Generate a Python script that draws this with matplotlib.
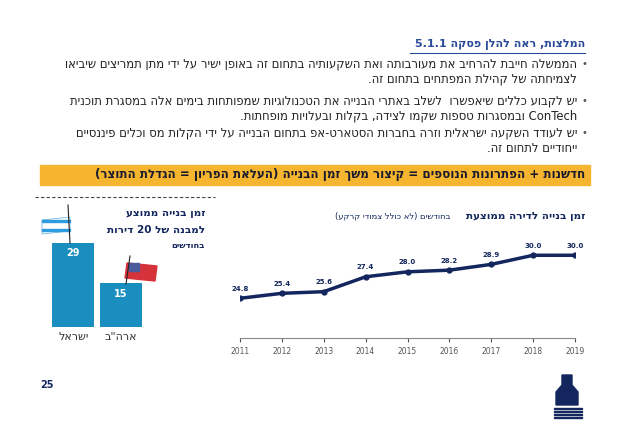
import re
import matplotlib.pyplot as plt
from matplotlib.patches import Rectangle, Polygon

plt.rcParams['font.family'] = ['DejaVu Sans']

years = [2011, 2012, 2013, 2014, 2015, 2016, 2017, 2018, 2019]
months = [24.8, 25.4, 25.6, 27.4, 28.0, 28.2, 28.9, 30.0, 30.0]
countries = ['ישראל', 'ארה"ב']
bar_vals = [29, 15]

NAVY = '#13275e'
BLUE = '#1a8fbf'
W, H = 620, 437


def rtl(s):
    # visual order for right-to-left text, keep latin/digit runs intact
    out = s[::-1]
    out = re.sub(r'[A-Za-z0-9.]*[A-Za-z0-9]', lambda m: m.group(0)[::-1], out)
    return out.translate(str.maketrans('()', ')('))


def px(x, y):
    return x / W, 1 - y / H


fig = plt.figure(figsize=(6.2, 4.37), dpi=100)


def txt(x, y, s, **kw):
    kw.setdefault('color', NAVY)
    kw.setdefault('va', 'center')
    kw.setdefault('ha', 'right')
    fig.text(*px(x, y), rtl(s), **kw)


txt(585, 45, 'המלצות, ראה להלן פסקה 5.1.1', fontsize=8, weight='bold', color='#2a4a9a')
fig.add_artist(plt.Line2D([410 / W, 585 / W], [1 - 53 / H] * 2, color='#2a4a9a', lw=0.8))

lines = [
    (64, True, 'הממשלה חייבת להרחיב את מעורבותה ואת השקעותיה בתחום זה באופן ישיר על ידי מתן תמריצים שיביאו'),
    (79, False, 'לצמיחתה של קהילת המפתחים בתחום זה.'),
    (101, True, 'יש לקבוע כללים שיאפשרו  לשלב באתרי הבנייה את הטכנולוגיות שמפותחות בימים אלה במסגרת תוכנית'),
    (116, False, 'ConTech ובמסגרות טספות שקמו לצידה, בקלות ובעלויות מופחתות.'),
    (133, True, 'יש לעודד השקעה ישראלית וזרה בחברות הסטארט-אפ בתחום הבנייה על ידי הקלות מס וכלים פיננסיים'),
    (148, False, 'ייחודיים לתחום זה.'),
]
for y, bullet, s in lines:
    txt(577, y, s, fontsize=8.4, color='#222222')
    if bullet:
        fig.text(*px(587, y), '•', ha='right', va='center', fontsize=7, color='#555555')

fig.add_artist(Rectangle(px(40, 185), 550 / W, 20 / H, color='#f5b52e', zorder=0))
txt(585, 175, 'חדשנות + הפתרונות הנוספים = קיצור משך זמן הבנייה (העלאת הפריון = הגדלת התוצר)',
    fontsize=8.6, weight='bold', color='#1a1a2e')

# line chart
ax = fig.add_axes([240 / W, 1 - 338 / H, 335 / W, 91 / H])
ax.plot(years, months, color=NAVY, lw=2.5, marker='o', ms=3.5)
for x, v in zip(years, months):
    ax.text(x, v + 0.9, f'{v:.1f}', ha='center', fontsize=5, color=NAVY, weight='bold')
ax.set_ylim(20, 31)
ax.set_xlim(2011, 2019)
ax.set_yticks([])
ax.set_xticks(years)
ax.tick_params(axis='x', labelsize=5.5, colors='#555555', length=3)
for sp in ['top', 'right', 'left']:
    ax.spines[sp].set_visible(False)
ax.spines['bottom'].set_color('#888888')
txt(585, 216, 'זמן בנייה לדירה ממוצעת', fontsize=7.5, weight='bold')
txt(450, 216, 'בחודשים (לא כולל צמודי קרקע)', fontsize=6)

# bar chart
bx = fig.add_axes([47 / W, 1 - 327 / H, 100 / W, 96 / H])
bx.bar([0, 1], bar_vals, width=0.87, color=BLUE)
for i, v in enumerate(bar_vals):
    bx.text(i, v - 3.5, str(v), ha='center', va='center', color='white', fontsize=7, weight='bold')
bx.set_ylim(0, 33)
bx.set_xlim(-0.55, 1.55)
bx.set_xticks([0, 1], [rtl(c) for c in countries])
bx.tick_params(axis='x', length=0, labelsize=8, colors='#333333')
bx.set_yticks([])
for sp in bx.spines.values():
    sp.set_visible(False)

fig.add_artist(plt.Line2D([35 / W, 215 / W], [1 - 197 / H] * 2, color='#444444', lw=0.8, ls=(0, (3, 2))))
txt(205, 213, 'זמן בנייה ממוצע', fontsize=7.5, weight='bold')
txt(205, 230, 'למבנה של 20 דירות', fontsize=7.5, weight='bold')
txt(205, 246, 'בחודשים', fontsize=6, weight='bold')

# flags
fig.add_artist(plt.Line2D([70 / W, 68 / W], [1 - 243 / H, 1 - 205 / H], color='#222222', lw=0.8))
fig.add_artist(Polygon([px(42, 220), px(70, 217), px(70, 231), px(42, 234)], closed=True,
                       facecolor='white', edgecolor='#5aaee0', lw=0.5))
fig.add_artist(Rectangle(px(42, 222), 28 / W, 2 / H, color='#2f9be0'))
fig.add_artist(Rectangle(px(42, 231), 28 / W, 2 / H, color='#2f9be0'))
fig.add_artist(plt.Line2D([126 / W, 130 / W], [1 - 284 / H, 1 - 256 / H], color='#222222', lw=0.8))
fig.add_artist(Polygon([px(127, 263), px(157, 266), px(155, 281), px(125, 278)], closed=True,
                       color='#d6323a'))
fig.add_artist(Rectangle(px(129, 271), 10 / W, 8 / H, color='#4a5a9a'))

fig.text(*px(40, 385), '25', ha='left', va='center', fontsize=7, weight='bold', color=NAVY)

# logo
fig.add_artist(Polygon([px(562, 375), px(572, 375), px(572, 385), px(578, 392), px(578, 405),
                        px(556, 405), px(556, 392), px(562, 385)], closed=True, color=NAVY))
for i in range(4):
    fig.add_artist(Rectangle(px(554, 409 + i * 3), 28 / W, 1.5 / H, color=NAVY))

fig.savefig('out.png', dpi=100)
